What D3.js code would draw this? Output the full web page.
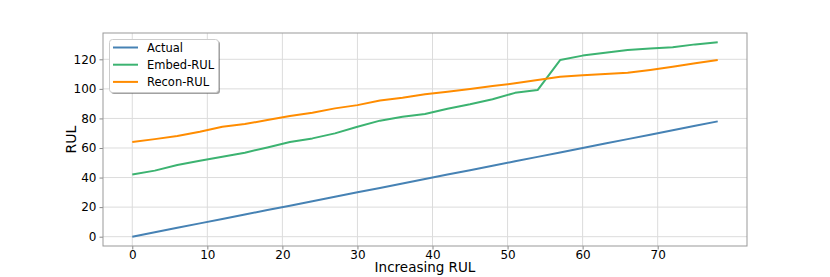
<!DOCTYPE html>
<html><head><meta charset="utf-8">
<script src="https://cdn.jsdelivr.net/npm/d3@7"></script>
<style>body{margin:0;background:#fff}svg{display:block}text{font-family:"DejaVu Sans",sans-serif}</style>
</head><body><svg id="c" width="830" height="277"></svg>
<script>
const xs = [0,3,6,9,12,15,18,21,24,27,30,33,36,39,42,45,48,51,54,57,60,63,66,69,72,75,78];
const actual = [0,3,6,9,12,15,18,21,24,27,30,33,36,39,42,45,48,51,54,57,60,63,66,69,72,75,78];
const embed = [42,44.7,48.5,51.4,54.1,56.8,60.4,64,66.5,69.9,74.4,78.5,81.2,83,86.6,89.6,93,97.3,99.2,119.5,122.5,124.4,126.3,127.3,128.2,130.1,131.5];
const recon = [64,66,68.1,71,74.4,76.2,78.9,81.6,83.9,86.8,89,92.2,94,96.3,98.1,99.9,101.9,103.8,106,108.2,109.2,110,110.9,112.8,115,117.3,119.5];
const xTicks = [0,10,20,30,40,50,60,70];
const yTicks = [0,20,40,60,80,100,120];
const seriesNames = ["Actual","Embed-RUL","Recon-RUL"];
const colors = ["#4682b4","#3cb371","#ff8c00"];

const svg = d3.select("#c");
const L=103, R=747, T=33, B=246;
const x = d3.scaleLinear().domain([-3.9,81.9]).range([L,R]);
const y = d3.scaleLinear().domain([-6.3,137.8]).range([B,T]);

// grid
const g = svg.append("g");
g.selectAll("line.vx").data(xTicks).join("line")
 .attr("x1",d=>x(d)).attr("x2",d=>x(d)).attr("y1",T).attr("y2",B)
 .attr("stroke","#dcdcdc").attr("stroke-width",1);
g.selectAll("line.hy").data(yTicks).join("line")
 .attr("y1",d=>y(d)).attr("y2",d=>y(d)).attr("x1",L).attr("x2",R)
 .attr("stroke","#dcdcdc").attr("stroke-width",1);

// axes
const xa = svg.append("g").attr("transform",`translate(0,${B})`)
 .call(d3.axisBottom(x).tickValues(xTicks).tickSize(3.5).tickPadding(1).tickFormat(d3.format("d")));
const ya = svg.append("g").attr("transform",`translate(${L},0)`)
 .call(d3.axisLeft(y).tickValues(yTicks).tickSize(3.5).tickPadding(3).tickFormat(d3.format("d")));
[xa,ya].forEach(a=>{
  a.select(".domain").remove();
  a.selectAll("line").attr("stroke","#888");
  a.selectAll("text").attr("font-size","12px").attr("fill","#000").style("font-family","DejaVu Sans");
});

// lines
const data = [actual,embed,recon];
const line = d3.line().x((d,i)=>x(xs[i])).y(d=>y(d));
data.forEach((s,k)=>{
  svg.append("path").datum(s).attr("d",line).attr("fill","none")
   .attr("stroke",colors[k]).attr("stroke-width",2).attr("stroke-linejoin","round");
});

// frame
svg.append("rect").attr("x",L).attr("y",T).attr("width",R-L).attr("height",B-T)
 .attr("fill","none").attr("stroke","#999").attr("stroke-width",1);

// labels
svg.append("text").attr("x",(L+R)/2).attr("y",271.5).attr("text-anchor","middle")
 .attr("font-size","13.5px").text("Increasing RUL");
svg.append("text").attr("transform",`translate(75.5,${(T+B)/2}) rotate(-90)`).attr("text-anchor","middle")
 .attr("font-size","14px").text("RUL");

// legend
const lg = svg.append("g");
lg.append("rect").attr("x",111).attr("y",41).attr("width",109).attr("height",53).attr("rx",3)
 .attr("fill","#555").attr("opacity",0.55);
lg.append("rect").attr("x",109.5).attr("y",39.5).attr("width",109).attr("height",53).attr("rx",3)
 .attr("fill","#fff").attr("stroke","#ccc");
seriesNames.forEach((n,k)=>{
  const yy = 47.5 + k*17.2;
  lg.append("line").attr("x1",113).attr("x2",138).attr("y1",yy).attr("y2",yy)
   .attr("stroke",colors[k]).attr("stroke-width",2);
  lg.append("text").attr("x",147).attr("y",yy+4.2).attr("font-size","11.5px").text(n);
});
</script></body></html>
